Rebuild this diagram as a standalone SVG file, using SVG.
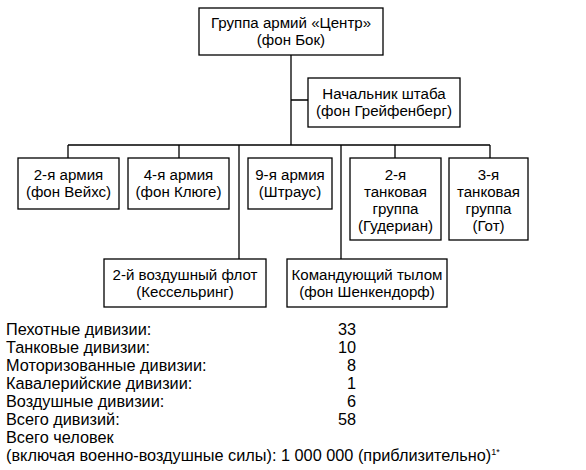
<svg xmlns="http://www.w3.org/2000/svg" width="586" height="470" viewBox="0 0 586 470">
<style>
.box{fill:#fff;stroke:#000;stroke-width:1.3}
.ln{fill:none;stroke:#000;stroke-width:1.3}
text{font-family:"Liberation Sans",Arial,sans-serif;font-size:15.1px;fill:#000}
.c{text-anchor:middle}
.r{text-anchor:end}
.t{font-size:16.3px}
</style>
<rect width="586" height="470" fill="#fff"/>
<g id="connectors">
<path class="ln" d="M291 55V145M291 100H308M68 145H490M68 145V158M179 145V158M239 145V259M341 145V259M395 145V158M490 145V158"/>
</g>
<g id="n-center"><rect class="box" x="199" y="8" width="184" height="47"/><text class="c" x="291" y="28">Группа армий «Центр»</text><text class="c" x="291" y="45">(фон Бок)</text></g>
<g id="n-chief"><rect class="box" x="308" y="78" width="152" height="49"/><text class="c" x="384" y="99">Начальник штаба</text><text class="c" x="384" y="116">(фон Грейфенберг)</text></g>
<g id="n-army2"><rect class="box" x="18" y="158" width="101" height="51"/><text class="c" x="68.5" y="180">2-я армия</text><text class="c" x="68.5" y="197">(фон Вейхс)</text></g>
<g id="n-army4"><rect class="box" x="128" y="158" width="101" height="51"/><text class="c" x="178.5" y="180">4-я армия</text><text class="c" x="178.5" y="197">(фон Клюге)</text></g>
<g id="n-army9"><rect class="box" x="248" y="158" width="84" height="51"/><text class="c" x="290" y="180">9-я армия</text><text class="c" x="290" y="197">(Штраус)</text></g>
<g id="n-pz2"><rect class="box" x="350" y="158" width="91" height="82"/><text class="c" x="395.5" y="180">2-я</text><text class="c" x="395.5" y="197">танковая</text><text class="c" x="395.5" y="214">группа</text><text class="c" x="395.5" y="231">(Гудериан)</text></g>
<g id="n-pz3"><rect class="box" x="449" y="158" width="79" height="82"/><text class="c" x="488.5" y="180">3-я</text><text class="c" x="488.5" y="197">танковая</text><text class="c" x="488.5" y="214">группа</text><text class="c" x="488.5" y="231">(Гот)</text></g>
<g id="n-lf2"><rect class="box" x="104" y="259" width="162" height="48"/><text class="c" x="185" y="280">2-й воздушный флот</text><text class="c" x="185" y="297">(Кессельринг)</text></g>
<g id="n-rear"><rect class="box" x="287" y="259" width="160" height="48"/><text class="c" x="367" y="280">Командующий тылом</text><text class="c" x="367" y="297">(фон Шенкендорф)</text></g>
<g id="table">
<text class="t" x="6" y="335">Пехотные дивизии:</text><text class="t r" x="356" y="335">33</text>
<text class="t" x="6" y="353">Танковые дивизии:</text><text class="t r" x="356" y="353">10</text>
<text class="t" x="6" y="371">Моторизованные дивизии:</text><text class="t r" x="356" y="371">8</text>
<text class="t" x="6" y="389">Кавалерийские дивизии:</text><text class="t r" x="356" y="389">1</text>
<text class="t" x="6" y="407">Воздушные дивизии:</text><text class="t r" x="356" y="407">6</text>
<text class="t" x="6" y="425">Всего дивизий:</text><text class="t r" x="356" y="425">58</text>
<text class="t" x="6" y="443">Всего человек</text>
<text class="t" x="6" y="461">(включая военно-воздушные силы): 1 000 000 (приблизительно)<tspan font-size="9" dy="-6">1*</tspan></text>
</g>
</svg>
